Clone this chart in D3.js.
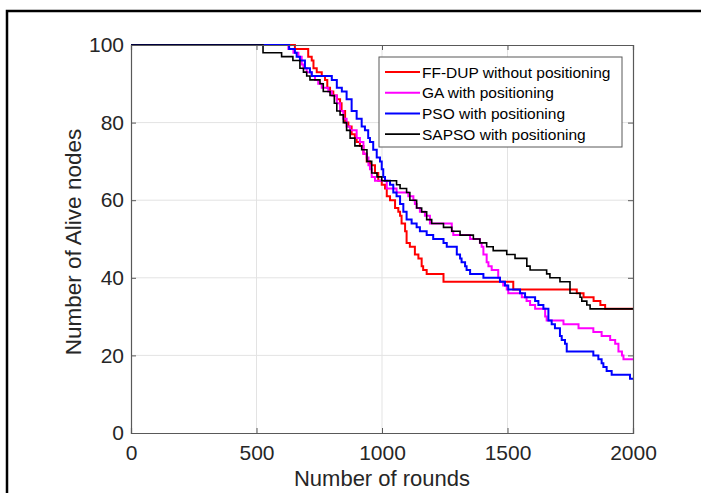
<!DOCTYPE html>
<html>
<head>
<meta charset="utf-8">
<script src="https://cdn.jsdelivr.net/npm/d3@7"></script>
<style>
body { margin:0; background:#fff; }
svg { display:block; font-family:"Liberation Sans", Arial, sans-serif; }
</style>
</head>
<body>
<div id="chart"></div>
<script>
var WIDTH = 701
var HEIGHT = 493

// step data: round where the count changes, and the count from that round on
var ffdupRounds = [0,653,706,720,727,740,760,773,782,793,806,820,833,839,853,866,879,892,899,912,926,939,952,972,985,999,1012,1019,1032,1052,1065,1072,1078,1092,1098,1111,1131,1145,1158,1164,1178,1245,1523,1776,1803,1843,1870,1889,2000]
var ffdupAlive  = [100,99,97,96,94,93,92,91,89,88,87,86,85,83,80,79,77,76,75,74,72,70,69,67,65,64,63,61,60,58,57,56,54,52,49,48,46,45,43,42,41,39,37,36,35,34,33,32,32]

var gaRounds = [0,627,647,667,680,687,700,720,733,746,760,786,800,820,833,846,859,873,899,912,926,939,946,952,959,972,1019,1058,1105,1125,1131,1138,1151,1171,1191,1278,1284,1351,1390,1397,1404,1417,1424,1437,1463,1470,1483,1497,1503,1557,1576,1590,1610,1650,1656,1723,1783,1842,1875,1909,1929,1942,1956,1962,2000]
var gaAlive  = [100,99,98,97,95,94,93,92,91,90,89,88,87,85,83,81,79,78,76,75,72,71,69,68,66,65,63,62,61,60,59,58,57,56,54,52,51,50,49,48,46,44,43,42,40,39,38,37,36,35,34,33,32,30,29,28,27,26,25,24,23,21,20,19,19]

var psoRounds = [0,630,653,660,673,693,713,720,800,820,840,859,879,899,919,932,945,952,965,979,992,999,1005,1012,1032,1045,1058,1072,1085,1098,1118,1138,1151,1178,1204,1245,1258,1298,1311,1317,1331,1337,1351,1404,1470,1490,1503,1550,1570,1610,1623,1643,1663,1676,1689,1709,1716,1729,1736,1842,1862,1875,1882,1895,1915,1988,2000]
var psoAlive  = [100,99,98,97,96,94,93,92,91,89,88,86,83,81,79,78,76,75,73,71,70,68,66,65,64,62,61,59,57,55,54,53,52,51,50,49,48,46,45,44,43,42,41,40,39,38,37,36,35,34,33,32,29,28,27,25,24,23,21,20,19,18,17,16,15,14,14]

var sapsoRounds = [0,526,600,645,673,687,700,713,753,766,793,810,820,833,846,859,873,892,919,940,959,980,999,1058,1072,1098,1111,1138,1158,1178,1198,1245,1278,1311,1364,1390,1417,1443,1497,1530,1577,1590,1656,1669,1709,1749,1789,1796,1816,1829,2000]
var sapsoAlive  = [100,98,97,96,94,93,92,91,90,88,87,85,83,82,80,78,76,74,73,70,67,66,65,64,63,62,60,58,57,55,54,53,52,51,50,49,48,47,46,45,43,42,41,40,39,36,35,34,33,32,32]

var seriesNames = ["FF-DUP without positioning","GA with positioning","PSO with positioning","SAPSO with positioning"]
var seriesColors = ["#ff0000","#ff00ff","#0000ff","#000000"]
var seriesWidths = [2,2,2,1.6]

var xTicks = [0,500,1000,1500,2000]
var yTicks = [0,20,40,60,80,100]

var allSeries = [
    {r:ffdupRounds, a:ffdupAlive},
    {r:gaRounds, a:gaAlive},
    {r:psoRounds, a:psoAlive},
    {r:sapsoRounds, a:sapsoAlive}
]

var pLeft = 131, pRight = 633, pTop = 45, pBottom = 433

var svg = d3.select("#chart").append("svg")
    .attr("width", WIDTH)
    .attr("height", HEIGHT)

var x = d3.scaleLinear().domain([0,2000]).range([pLeft,pRight])
var y = d3.scaleLinear().domain([0,100]).range([pBottom,pTop])

// outer frame of the figure
svg.append("path")
    .attr("d","M7,493V11H701")
    .attr("fill","none")
    .attr("stroke","#000")
    .attr("stroke-width",2.5)

// grid
svg.append("g").selectAll("line")
    .data(xTicks.slice(1,-1))
    .enter().append("line")
    .attr("x1",function(d){return x(d)}).attr("x2",function(d){return x(d)})
    .attr("y1",pTop).attr("y2",pBottom)
    .attr("stroke","#e3e3e3").attr("stroke-width",1)
svg.append("g").selectAll("line")
    .data(yTicks.slice(1,-1))
    .enter().append("line")
    .attr("y1",function(d){return y(d)}).attr("y2",function(d){return y(d)})
    .attr("x1",pLeft).attr("x2",pRight)
    .attr("stroke","#e3e3e3").attr("stroke-width",1)

// series
var line = d3.line()
    .x(function(d){return x(d[0])})
    .y(function(d){return y(d[1])})
    .curve(d3.curveStepAfter)

allSeries.forEach(function(s,i){
    var pts = s.r.map(function(r,j){return [r, s.a[j]]})
    svg.append("path")
        .datum(pts)
        .attr("d",line)
        .attr("fill","none")
        .attr("stroke",seriesColors[i])
        .attr("stroke-width",seriesWidths[i])
})

// axes (inward ticks, box)
var axisColor = "#595959"
svg.append("g")
    .attr("transform","translate(0,"+pBottom+")")
    .call(d3.axisBottom(x).tickValues(xTicks).tickSize(-5).tickPadding(12).tickFormat(d3.format("d")))
svg.append("g")
    .attr("transform","translate(0,"+pTop+")")
    .call(d3.axisTop(x).tickValues(xTicks).tickSize(-5).tickFormat(""))
svg.append("g")
    .attr("transform","translate("+pLeft+",0)")
    .call(d3.axisLeft(y).tickValues(yTicks).tickSize(-5).tickPadding(7))
svg.append("g")
    .attr("transform","translate("+pRight+",0)")
    .call(d3.axisRight(y).tickValues(yTicks).tickSize(-5).tickFormat(""))

svg.selectAll(".domain").attr("stroke",axisColor).attr("stroke-width",1.2)
svg.selectAll(".tick line").attr("stroke",axisColor)
svg.selectAll(".tick text")
    .attr("fill","#262626")
    .style("font-size","21px")
    .style("font-family","'Liberation Sans', Arial, sans-serif")

svg.append("text")
    .attr("x",(pLeft+pRight)/2)
    .attr("y",486)
    .attr("text-anchor","middle")
    .attr("fill","#262626")
    .style("font-size","22px")
    .text("Number of rounds")

svg.append("text")
    .attr("transform","translate(81,"+((pTop+pBottom)/2 + 3)+") rotate(-90)")
    .attr("text-anchor","middle")
    .attr("fill","#262626")
    .style("font-size","22.5px")
    .text("Number of Alive nodes")

// legend
var lg = svg.append("g").attr("transform","translate(379,57)")
lg.append("rect")
    .attr("width",243).attr("height",90)
    .attr("fill","#fff").attr("stroke",axisColor).attr("stroke-width",1)
seriesNames.forEach(function(n,i){
    var yy = 15 + i*20.7
    lg.append("line")
        .attr("x1",6).attr("x2",41)
        .attr("y1",yy).attr("y2",yy)
        .attr("stroke",seriesColors[i]).attr("stroke-width",seriesWidths[i])
    lg.append("text")
        .attr("x",43).attr("y",yy+5.5)
        .attr("fill","#000")
        .style("font-size","15.5px")
        .text(n)
})
</script>
</body>
</html>
